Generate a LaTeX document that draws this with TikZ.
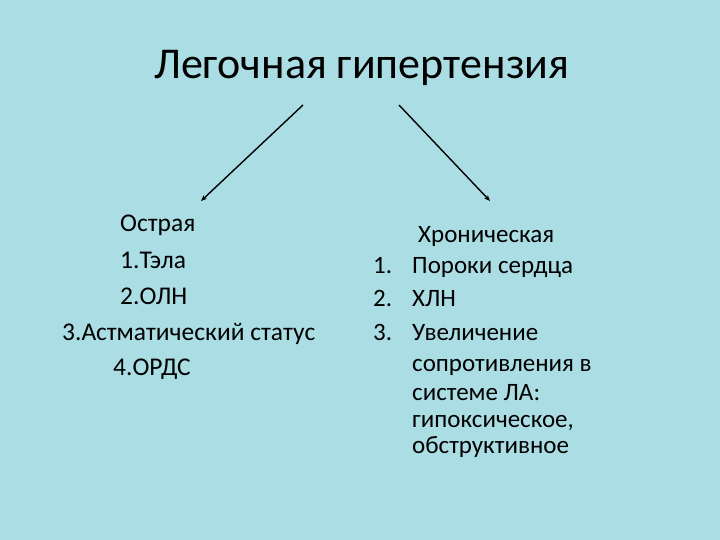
\documentclass[tikz,border=0pt]{standalone}
\usepackage{fontspec}
\setmainfont{Carlito}
\usetikzlibrary{positioning,arrows.meta}
\definecolor{waterbg}{RGB}{170,222,228}

\begin{document}
\begin{tikzpicture}[x=1pt, y=-1pt,
  title/.style={font=\fontsize{44}{52}\selectfont, anchor=base west, inner sep=0pt},
  line/.style={font=\fontsize{25.5}{30}\selectfont, anchor=base west, inner sep=0pt},
  rline/.style={line, font=\fontsize{25}{30}\selectfont},
  arr/.style={-{Stealth[length=6pt, width=5pt]}, line width=1.4pt}]
  \fill[waterbg] (0,0) rectangle (720,540);
  \useasboundingbox (0,0) rectangle (720,540);

  \node[title] (ttl) at (154,79) {Легочная гипертензия};

  % left branch
  \node[line] (acute) at (120,232) {Острая};
  \node[line] (a1) at (120,268) {1.Тэла};
  \node[line] (a2) at (120,304) {2.ОЛН};
  \node[line] (a3) at (62,340) {3.Астматический статус};
  \node[line] (a4) at (113,375) {4.ОРДС};

  % right branch
  \node[rline] (chron) at (418,243) {Хроническая};
  \node[rline] (n1) at (373,273) {1.};
  \node[rline] (c1) at (412,273) {Пороки сердца};
  \node[rline] (n2) at (373,306) {2.};
  \node[rline] (c2) at (412,306) {ХЛН};
  \node[rline] (n3) at (373,340) {3.};
  \node[rline] (c3) at (412,340) {Увеличение};
  \node[rline] (c3b) at (412,371) {сопротивления в};
  \node[rline] (c3c) at (412,400) {системе ЛА:};
  \node[rline] (c3d) at (412,427) {гипоксическое,};
  \node[rline] (c3e) at (412,453) {обструктивное};

  \coordinate (lstart) at (303,105);
  \coordinate (lend) at (201,201);
  \coordinate (rstart) at (399,105);
  \coordinate (rend) at (490,201);
  \draw[arr] (lstart) -- (lend);
  \draw[arr] (rstart) -- (rend);
\end{tikzpicture}
\end{document}
